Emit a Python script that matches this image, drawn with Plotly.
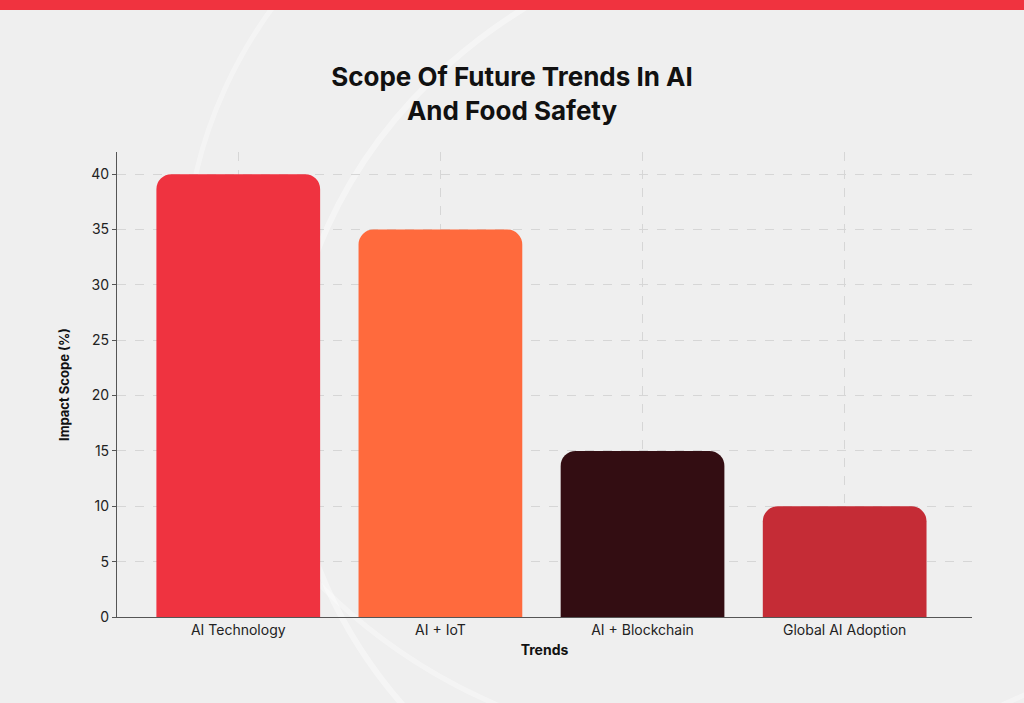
import plotly.graph_objects as go

categories = ["AI Technology", "AI + IoT", "AI + Blockchain", "Global AI Adoption"]
values = [40, 35, 15, 10]
colors = ["#EF3340", "#FF6A3D", "#330D12", "#C52C36"]
title_text = "Scope Of Future Trends In AI<br>And Food Safety"

fig = go.Figure()
fig.add_trace(go.Bar(
    x=categories, y=values,
    marker=dict(color=colors, cornerradius=15, line=dict(width=0)),
    width=0.81,
    hoverinfo="x+y",
))

fig.update_layout(shapes=[
    dict(type="circle", xref="paper", yref="paper", layer="below",
         x0=0.2, x1=1.5, y0=-0.6, y1=1.5, line=dict(color="rgba(255,255,255,0.4)", width=6)),
    dict(type="circle", xref="paper", yref="paper", layer="below",
         x0=0.08, x1=1.4, y0=-0.3, y1=1.8, line=dict(color="rgba(255,255,255,0.35)", width=5)),
])

fig.update_layout(
    width=1024, height=703,
    paper_bgcolor="#EFEFEF", plot_bgcolor="rgba(0,0,0,0)",
    margin=dict(l=117, r=52, t=152, b=86),
    title=dict(text=title_text, x=0.5, xanchor="center", y=0.878, yanchor="top",
               font=dict(family="Inter", size=26, color="#111111", weight="bold")),
    font=dict(family="Inter", color="#222222"),
    showlegend=False,
    bargap=0.19,
)
fig.update_xaxes(
    range=[-0.6, 3.63], showline=True, linecolor="#555555", linewidth=1.2,
    showgrid=True, gridcolor="#D6D6D6", griddash="dash", gridwidth=1,
    tickfont=dict(size=14, color="#222222"), ticks="",
    title=dict(text="Trends", font=dict(size=14, color="#111111", weight="bold"), standoff=8),
)
fig.update_yaxes(
    range=[0, 42], showline=True, linecolor="#555555", linewidth=1.2,
    showgrid=True, gridcolor="#D6D6D6", griddash="dash", gridwidth=1,
    tickvals=[0, 5, 10, 15, 20, 25, 30, 35, 40], zeroline=False,
    tickfont=dict(size=14, color="#222222"), ticks="outside", ticklen=4, tickcolor="#555555",
    title=dict(text="Impact Scope (%)", font=dict(size=13, color="#111111", weight="bold"), standoff=18),
)
# red band at the top
fig.add_shape(type="rect", xref="paper", yref="paper", x0=-0.2, x1=1.2,
              y0=1 + (152 - 10) / 465, y1=1 + 152 / 465 + 0.01,
              fillcolor="#F0333F", line=dict(width=0), layer="above")

fig.write_html("out.html", config={"displayModeBar": False},
               post_script="document.body.style.margin='0';document.body.style.overflow='hidden';")
